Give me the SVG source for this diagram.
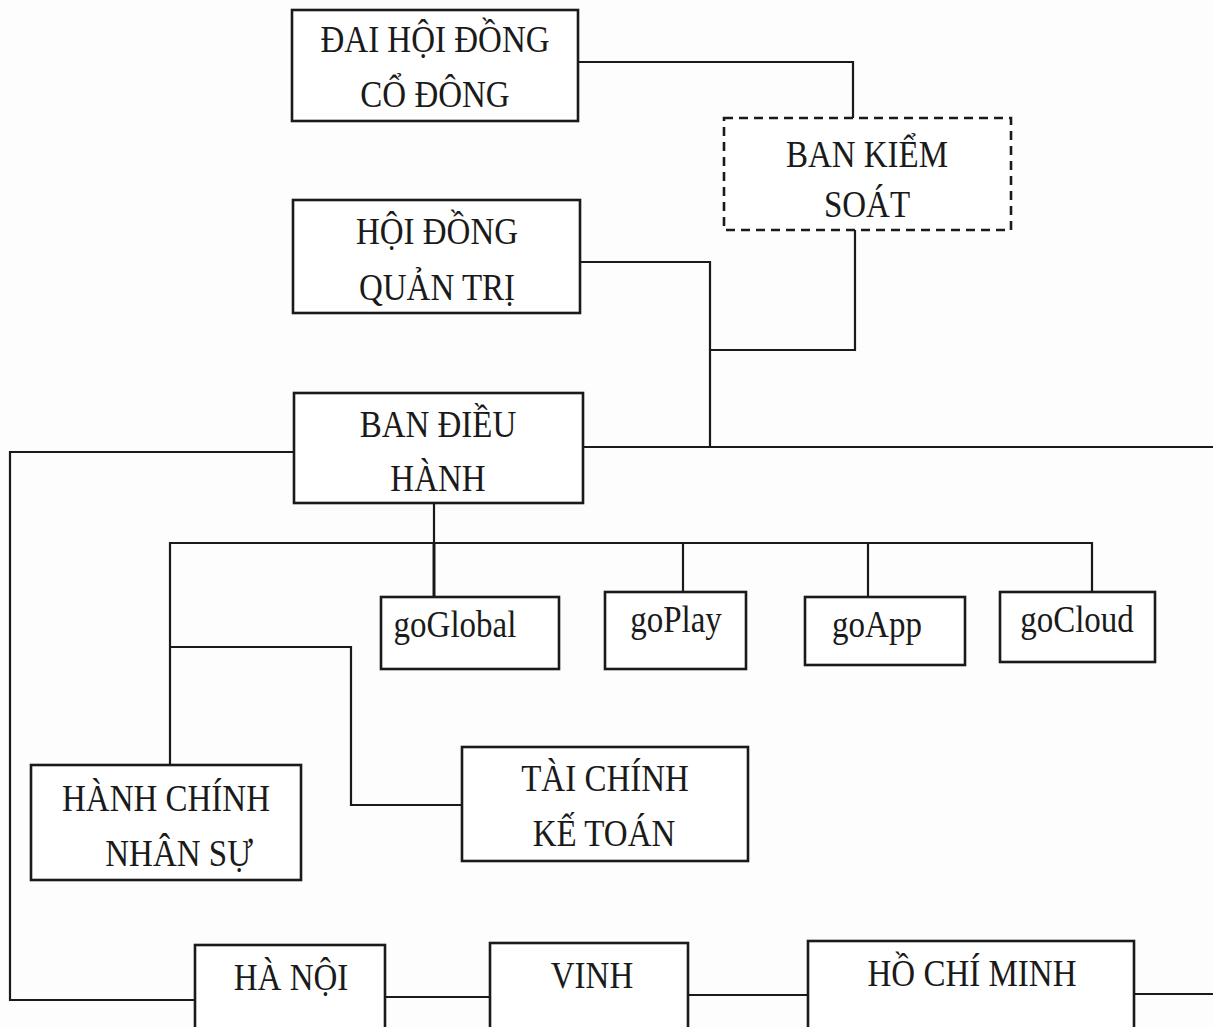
<svg xmlns="http://www.w3.org/2000/svg" width="1213" height="1027" viewBox="0 0 1213 1027">
<style>
.box{fill:#fff;stroke:#1a1a1a;stroke-width:2.6}
.dash{fill:#fff;stroke:#1a1a1a;stroke-width:2.6;stroke-dasharray:9 6}
.ln{fill:none;stroke:#1a1a1a;stroke-width:2.2}
.t{font-family:"Liberation Serif","Times New Roman",serif;font-size:33px;fill:#1a1a1a;text-anchor:middle}
</style>
<rect width="1213" height="1027" fill="#fdfdfd"/>
<g id="connectors">
<polyline class="ln" points="578,62 853,62 853,118"/>
<polyline class="ln" points="855,230 855,350 710,350"/>
<polyline class="ln" points="580,262 710,262 710,447"/>
<polyline class="ln" points="583,447 1213,447"/>
<polyline class="ln" points="294,452 10,452 10,1000 195,1000"/>
<polyline class="ln" points="385,997 490,997"/>
<polyline class="ln" points="688,995 808,995"/>
<polyline class="ln" points="1134,994 1213,994"/>
<polyline class="ln" points="434,503 434,543"/>
<polyline class="ln" points="170,765 170,543 1092,543 1092,592"/>
<polyline class="ln" points="434,543 434,597" style="stroke-width:3"/>
<polyline class="ln" points="683,543 683,592"/>
<polyline class="ln" points="868,543 868,597"/>
<polyline class="ln" points="170,647 351,647 351,805 462,805"/>
</g>
<g id="dai-hoi-dong-co-dong">
<rect class="box" x="292" y="10" width="286" height="111"/>
<text class="t" transform="translate(435,52) scale(1,1.15)">ĐAI HỘI ĐỒNG</text>
<text class="t" transform="translate(435,107) scale(1,1.15)">CỔ ĐÔNG</text>
</g>
<g id="ban-kiem-soat">
<rect class="dash" x="724" y="118" width="287" height="112"/>
<text class="t" transform="translate(867,167) scale(1,1.15)">BAN KIỂM</text>
<text class="t" transform="translate(867,217) scale(1,1.15)">SOÁT</text>
</g>
<g id="hoi-dong-quan-tri">
<rect class="box" x="293" y="200" width="287" height="113"/>
<text class="t" transform="translate(437,244) scale(1,1.15)">HỘI ĐỒNG</text>
<text class="t" transform="translate(437,300) scale(1,1.15)">QUẢN TRỊ</text>
</g>
<g id="ban-dieu-hanh">
<rect class="box" x="294" y="393" width="289" height="110"/>
<text class="t" transform="translate(438,437) scale(1,1.15)">BAN ĐIỀU</text>
<text class="t" transform="translate(438,491) scale(1,1.15)">HÀNH</text>
</g>
<g id="goGlobal">
<rect class="box" x="381" y="597" width="178" height="72"/>
<text class="t" transform="translate(455,637) scale(1,1.15)">goGlobal</text>
</g>
<g id="goPlay">
<rect class="box" x="605" y="592" width="141" height="77"/>
<text class="t" transform="translate(676,632) scale(1,1.15)">goPlay</text>
</g>
<g id="goApp">
<rect class="box" x="805" y="597" width="160" height="68"/>
<text class="t" transform="translate(877,637) scale(1,1.15)">goApp</text>
</g>
<g id="goCloud">
<rect class="box" x="1000" y="592" width="155" height="70"/>
<text class="t" transform="translate(1077,632) scale(1,1.15)">goCloud</text>
</g>
<g id="hanh-chinh-nhan-su">
<rect class="box" x="31" y="765" width="270" height="115"/>
<text class="t" transform="translate(166,811) scale(1,1.15)">HÀNH CHÍNH</text>
<text class="t" transform="translate(179,866) scale(1,1.15)">NHÂN SỰ</text>
</g>
<g id="tai-chinh-ke-toan">
<rect class="box" x="462" y="747" width="286" height="114"/>
<text class="t" transform="translate(605,791) scale(1,1.15)">TÀI CHÍNH</text>
<text class="t" transform="translate(604,846) scale(1,1.15)">KẾ TOÁN</text>
</g>
<g id="ha-noi">
<rect class="box" x="195" y="945" width="190" height="100"/>
<text class="t" transform="translate(291,990) scale(1,1.15)">HÀ NỘI</text>
</g>
<g id="vinh">
<rect class="box" x="490" y="943" width="198" height="100"/>
<text class="t" transform="translate(592,988) scale(1,1.15)">VINH</text>
</g>
<g id="ho-chi-minh">
<rect class="box" x="808" y="941" width="326" height="100"/>
<text class="t" transform="translate(972,986) scale(1,1.15)">HỒ CHÍ MINH</text>
</g>
</svg>
